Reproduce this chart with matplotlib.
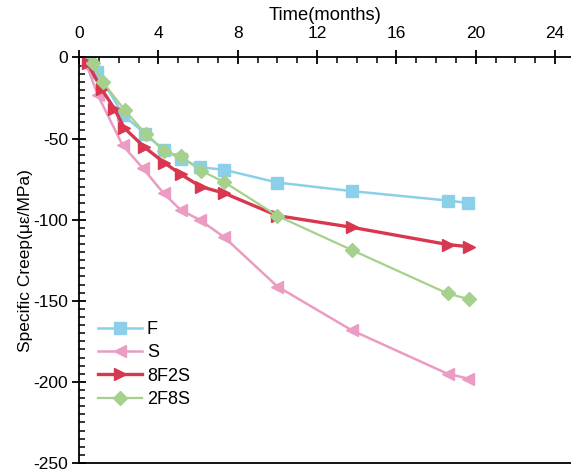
import numpy as np
from matplotlib import pyplot as plt
from matplotlib.ticker import MultipleLocator

plt.rcParams['font.family'] = ['Liberation Sans', 'DejaVu Sans']
plt.rcParams['axes.unicode_minus'] = False

# Data (time in months, specific creep in με/MPa)
t_f = [0.5, 0.92, 2.24, 3.34, 4.3, 5.12, 6.1, 7.33, 10.0, 13.75, 18.58, 19.63]
creep_f = [-3.0, -8.9, -35.7, -47.0, -57.3, -62.4, -67.6, -69.3, -77.1, -82.4, -88.2, -89.7]

t_s = [0.4, 0.95, 2.2, 3.2, 4.26, 5.12, 6.1, 7.33, 10.0, 13.75, 18.58, 19.63]
creep_s = [-5.2, -23.3, -54.2, -68.0, -83.7, -94.0, -100.2, -110.9, -141.2, -168.2, -195.0, -198.0]

t_8f2s = [0.44, 1.14, 1.78, 2.28, 3.29, 4.3, 5.14, 6.13, 7.33, 10.0, 13.75, 18.62, 19.68]
creep_8f2s = [-3.7, -19.6, -31.5, -43.5, -55.2, -64.9, -72.1, -79.6, -83.7, -97.5, -104.7, -115.4, -116.7]

t_2f8s = [0.7, 1.19, 2.31, 3.38, 4.3, 5.14, 6.13, 7.33, 10.0, 13.75, 18.58, 19.65]
creep_2f8s = [-3.3, -15.0, -32.6, -47.4, -57.7, -61.0, -69.7, -76.9, -97.7, -118.7, -145.5, -149.0]

fig = plt.figure(figsize=(5.71, 4.71), dpi=100)
ax = fig.add_axes([0.1384, 0.017, 0.8616, 0.861])

ax.plot(t_f, creep_f, color='#8ccfe8', lw=1.8, marker='s', ms=8, label='F')
ax.plot(t_s, creep_s, color='#eb9cc2', lw=1.8, marker='<', ms=9, label='S')
ax.plot(t_8f2s, creep_8f2s, color='#d8374f', lw=2.4, marker='>', ms=9, label='8F2S')
ax.plot(t_2f8s, creep_2f8s, color='#a5d18c', lw=1.6, marker='D', ms=7, label='2F8S')

ax.set_xlim(0, 24.8)
ax.set_ylim(-250, 0)
ax.xaxis.tick_top()
ax.xaxis.set_label_position('top')
ax.set_xticks(np.arange(0, 25, 4))
ax.xaxis.set_minor_locator(MultipleLocator(1))
ax.yaxis.set_major_locator(MultipleLocator(50))
ax.yaxis.set_minor_locator(MultipleLocator(5))
ax.spines['right'].set_visible(False)
for s in ['top', 'left', 'bottom']:
    ax.spines[s].set_linewidth(1.3)

ax.tick_params(which='major', direction='inout', length=10, width=1.3, labelsize=12.5)
ax.tick_params(which='minor', direction='in', length=4, width=1.1)
ax.tick_params(axis='x', which='both', top=True, bottom=False, pad=7)
ax.tick_params(axis='y', which='major', pad=3)

ax.set_xlabel('Time(months)', fontsize=13.2, labelpad=4)
ax.set_ylabel('Specific Creep(με/MPa)', fontsize=12.5, labelpad=0)

ax.legend(loc='upper left', bbox_to_anchor=(0.006, 0.39), frameon=False, fontsize=13,
          handlelength=2.4, handletextpad=0.3, labelspacing=0.35)

fig.savefig('out.png', dpi=100)
